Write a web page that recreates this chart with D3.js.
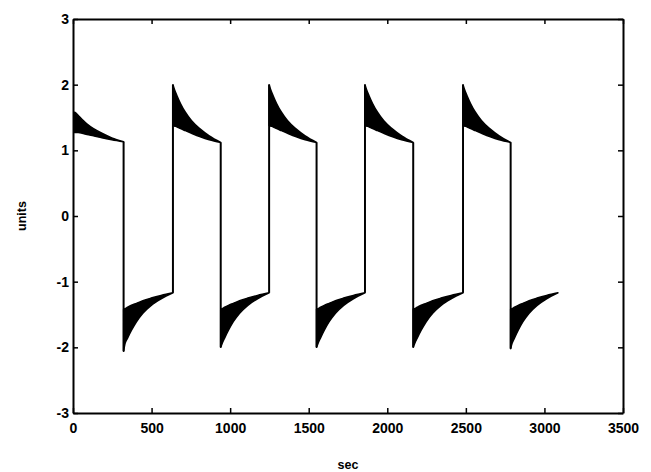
<!DOCTYPE html>
<html>
<head>
<meta charset="utf-8">
<style>
  body { margin: 0; background: #fff; }
  svg text { font-family: "Liberation Sans", Arial, sans-serif; fill: #000; }
</style>
</head>
<body>
<svg width="651" height="472"></svg>
<script src="https://cdn.jsdelivr.net/npm/d3@7/dist/d3.min.js"></script>
<script>
  var xTicks = [0, 500, 1000, 1500, 2000, 2500, 3000, 3500];
  var yTicks = [-3, -2, -1, 0, 1, 2, 3];

  // times (sec) where the signal switches level, last one is the end of the record
  var switchTimes = [8, 322, 636, 940, 1248, 1550, 1858, 2165, 2482, 2785, 3086];
  // extreme value reached right after each switch
  var segPeak = [1.58, -2.06, 2.0, -2.0, 2.0, -2.0, 2.0, -2.0, 2.0, -2.02];

  // envelope of the fast oscillation, sampled at fractions of each segment
  var envFrac   = [0, 0.03, 0.08, 0.16, 0.26, 0.39, 0.56, 0.76, 1];
  var firstUpper = [1.58, 1.57, 1.53, 1.47, 1.40, 1.33, 1.26, 1.19, 1.13];
  var firstLower = [1.27, 1.27, 1.27, 1.26, 1.24, 1.22, 1.19, 1.16, 1.13];
  var highUpper = [2.00, 1.93, 1.84, 1.71, 1.58, 1.45, 1.33, 1.22, 1.12];
  var highLower = [1.38, 1.37, 1.36, 1.33, 1.30, 1.26, 1.21, 1.16, 1.12];
  var lowUpper  = [-1.42, -1.41, -1.39, -1.36, -1.33, -1.29, -1.25, -1.21, -1.17];
  var lowLower  = [-2.00, -1.94, -1.86, -1.74, -1.61, -1.48, -1.36, -1.26, -1.17];

  var svg = d3.select('svg');

  var x = d3.scaleLinear().domain([0, 3500]).range([73, 623]);
  var y = d3.scaleLinear().domain([-3, 3]).range([413, 19]);

  // build one envelope per segment
  var segs = d3.range(switchTimes.length - 1).map(function(i) {
    var t0 = switchTimes[i], t1 = switchTimes[i + 1];
    var high = i % 2 === 0;
    var up = i === 0 ? firstUpper : (high ? highUpper : lowUpper);
    var lo = i === 0 ? firstLower : (high ? highLower : lowLower);
    return envFrac.map(function(f, j) {
      var p = { t: t0 + f * (t1 - t0), hi: up[j], lo: lo[j] };
      if (j === 0) { if (high) p.hi = segPeak[i]; else p.lo = segPeak[i]; }
      return p;
    });
  });

  var area = d3.area()
    .x(function(d) { return x(d.t); })
    .y0(function(d) { return y(d.lo); })
    .y1(function(d) { return y(d.hi); })
    .curve(d3.curveMonotoneX);

  svg.selectAll('path.env')
      .data(segs)
    .enter().append('path')
      .attr('class', 'env')
      .attr('d', area)
      .style('fill', '#000')
      .style('stroke', '#000')
      .style('stroke-width', 1.5)
      .style('stroke-linejoin', 'round');

  // vertical jumps between segments
  svg.selectAll('line.jump')
      .data(d3.range(1, segs.length))
    .enter().append('line')
      .attr('class', 'jump')
      .attr('x1', function(k) { return x(switchTimes[k]); })
      .attr('x2', function(k) { return x(switchTimes[k]); })
      .attr('y1', function(k) { var p = segs[k - 1][envFrac.length - 1]; return y((p.hi + p.lo) / 2); })
      .attr('y2', function(k) { return y(segPeak[k]); })
      .style('stroke', '#000')
      .style('stroke-width', 2);

  // axes, matlab style box with inward ticks
  function styleAxis(g) {
    g.select('.domain').style('stroke', '#000').style('stroke-width', 2);
    g.selectAll('.tick line').style('stroke', '#000').style('stroke-width', 1.5);
    g.selectAll('text').style('font-size', '14px').style('font-weight', 'bold');
  }

  svg.append('g')
      .attr('transform', 'translate(0,' + y(-3) + ')')
      .call(d3.axisBottom(x).tickValues(xTicks).tickSizeInner(-5).tickSizeOuter(0)
        .tickPadding(10).tickFormat(function(d) { return String(d); }))
      .call(styleAxis);

  svg.append('g')
      .attr('transform', 'translate(0,' + y(3) + ')')
      .call(d3.axisTop(x).tickValues(xTicks).tickSizeInner(-5).tickSizeOuter(0).tickFormat(''))
      .call(styleAxis);

  svg.append('g')
      .attr('transform', 'translate(' + x(0) + ',0)')
      .call(d3.axisLeft(y).tickValues(yTicks).tickSizeInner(-5).tickSizeOuter(0)
        .tickPadding(4).tickFormat(function(d) { return String(d); }))
      .call(styleAxis);

  svg.append('g')
      .attr('transform', 'translate(' + x(3500) + ',0)')
      .call(d3.axisRight(y).tickValues(yTicks).tickSizeInner(-5).tickSizeOuter(0).tickFormat(''))
      .call(styleAxis);

  svg.append('text')
      .attr('x', (x(0) + x(3500)) / 2)
      .attr('y', 469)
      .attr('text-anchor', 'middle')
      .style('font-size', '12.5px')
      .style('font-weight', 'bold')
      .text('sec');

  svg.append('text')
      .attr('transform', 'translate(26,' + y(0) + ') rotate(-90)')
      .attr('text-anchor', 'middle')
      .style('font-size', '12.5px')
      .style('font-weight', 'bold')
      .text('units');
</script>
</body>
</html>
